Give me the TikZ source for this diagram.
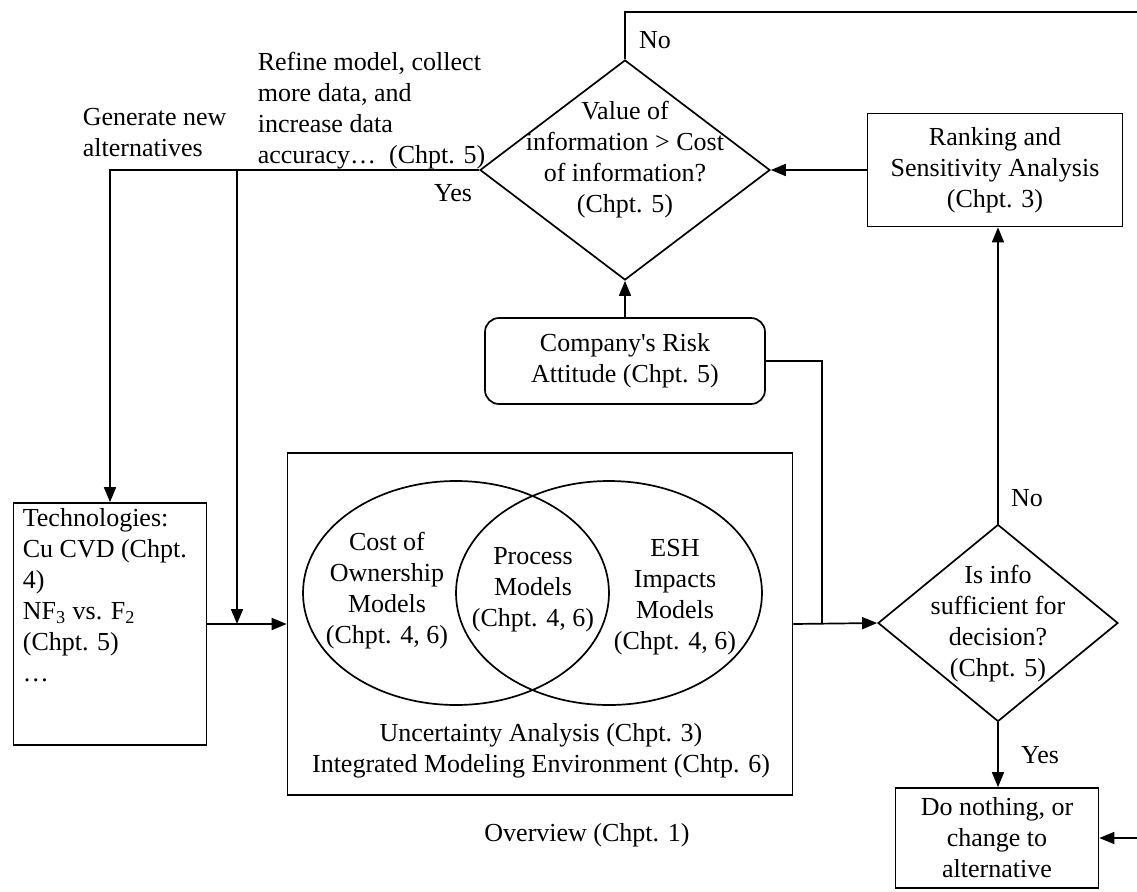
\documentclass[tikz,border=0pt]{standalone}
\usepackage{fontspec}
\setmainfont{Liberation Serif}
\usetikzlibrary{shapes.geometric, arrows.meta, positioning}
\tikzstyle{block} = [rectangle, draw, align=center, inner sep=0pt]
\tikzstyle{soft} = [rectangle, draw, rounded corners=7pt, align=center, inner sep=0pt]
\tikzstyle{decision} = [diamond, draw, inner sep=0pt]
\tikzstyle{venn} = [ellipse, draw, inner sep=0pt, minimum width=153pt, minimum height=112pt]
\tikzstyle{txt} = [align=center, inner sep=0pt]
\tikzstyle{note} = [align=left, inner sep=0pt]
\tikzstyle{line} = [draw, -{Triangle[length=7.5pt, width=6pt]}]

\begin{document}
\begin{tikzpicture}[x=0.5pt, y=-0.5pt, line width=0.85pt, font=\fontsize{13}{15.5}\selectfont]
    \useasboundingbox (0,0) rectangle (1137,891);
    % Place nodes
    \node [decision, minimum width=145pt, minimum height=110pt] (voi) at (625,170) {};
    \node [txt] (voitext) at (625,160) {Value of\\information > Cost\\of information?\\(Chpt. 5)};
    \node [block, minimum width=127.5pt, minimum height=56.5pt] (rank) at (995,170) {Ranking and\\Sensitivity Analysis\\(Chpt. 3)};
    \node [soft, minimum width=140pt, minimum height=43pt] (risk) at (625,361) {Company\textquotesingle s Risk\\Attitude (Chpt. 5)};

    \node [block, minimum width=96.5pt, minimum height=121pt] (tech) at (110,624) {};
    \node [note, anchor=north west] (techtext) at (22,508) {Technologies:\\Cu CVD (Chpt.\\4)\\NF\textsubscript{3} vs. F\textsubscript{2}\\(Chpt. 5)\\…};

    \node [block, minimum width=252.5pt, minimum height=171pt] (env) at (540,624) {};
    \node [venn] (coo) at (456,593) {};
    \node [venn] (esh) at (609,593) {};
    \node [txt] (cootext) at (387,591) {Cost of\\Ownership\\Models\\(Chpt. 4, 6)};
    \node [txt] (proctext) at (533,590) {Process\\Models\\(Chpt. 4, 6)};
    \node [txt] (eshtext) at (675,597) {ESH\\Impacts\\Models\\(Chpt. 4, 6)};
    \node [txt] (unc) at (541,751) {Uncertainty Analysis (Chpt. 3)\\Integrated Modeling Environment (Chtp. 6)};

    \node [decision, minimum width=120pt, minimum height=98.5pt] (info) at (998,623) {};
    \node [txt] (infotext) at (998,624) {Is info\\sufficient for\\decision?\\(Chpt. 5)};
    \node [block, minimum width=101.5pt, minimum height=50pt] (nothing) at (997,838) {Do nothing, or\\change to\\alternative};

    \node [note, anchor=west] (refine) at (257,111) {Refine model, collect\\more data, and\\increase data\\accuracy…\ \ (Chpt. 5)};
    \node [note, anchor=west] (generate) at (82,133) {Generate new\\alternatives};
    \node (yes1) at (453,193) {Yes};
    \node (no1) at (655,40) {No};
    \node (no2) at (1027,498) {No};
    \node (yes2) at (1040,755) {Yes};
    \node (overview) at (587,835) {Overview (Chpt. 1)};

    \coordinate (merge) at (237,624);
    \coordinate (join) at (822,624);
    \coordinate (corner) at (1145,12);

    % Draw edges
    \path [line] (voi.west) -| (tech.north);
    \path [line] (merge |- voi.west) -- (merge);
    \path [line] (tech.east) -- (env.west);
    \path [line] (env.east) -- (info.west);
    \draw (risk.east) -| (join);
    \path [line] (risk.north) -- (voi.south);
    \path [line] (rank.west) -- (voi.east);
    \path [line] (info.north) -- (info.north |- rank.south);
    \path [line] (info.south) -- (info.south |- nothing.north);
    \path [line] (voi.north) |- (corner) |- (nothing.east);
\end{tikzpicture}
\end{document}
